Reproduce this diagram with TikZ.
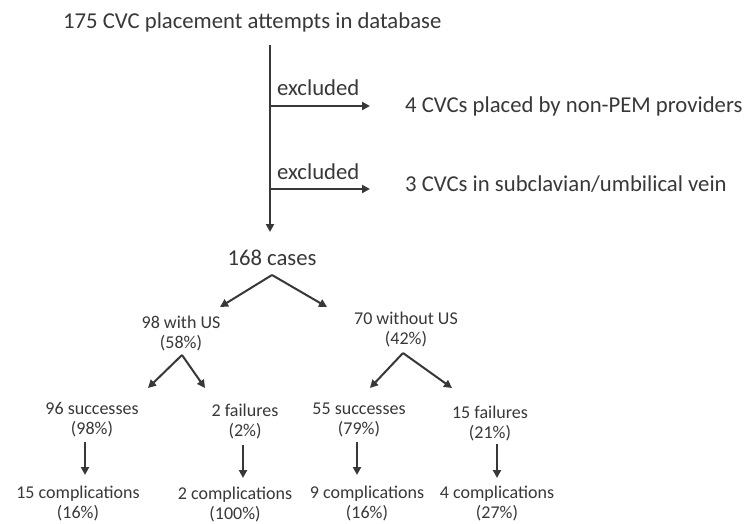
\documentclass[tikz,border=0pt]{standalone}
\usepackage{fontspec}
\setmainfont{Carlito}
\usetikzlibrary{arrows.meta}
\begin{document}
\begin{tikzpicture}[x=1pt,y=-1pt,
  big/.style={font=\fontsize{22.7}{26}\selectfont, text=black!78, inner sep=0pt},
  small/.style={font=\fontsize{18}{20}\selectfont, text=black!78, inner sep=0pt, align=center},
  arr/.style={draw=black!78, line width=2pt, -{Triangle[length=8pt,width=8pt]}}]
\useasboundingbox (0,0) rectangle (751,523);
\fill[white] (0,0) rectangle (751,523);

% top part
\node[big, anchor=west] (title) at (63,22) {175 CVC placement attempts in database};
\node[big, anchor=west] (exlab1) at (277,88) {excluded};
\node[big, anchor=west] (ex1) at (405,106) {4 CVCs placed by non-PEM providers};
\node[big, anchor=west] (exlab2) at (277,172) {excluded};
\node[big, anchor=west] (ex2) at (405,184) {3 CVCs in subclavian/umbilical vein};
\node[big] (cases) at (272,258) {168 cases};

\coordinate (vtop) at (270,45);
\coordinate (vend) at (270,232);
\coordinate (j1) at (270,106);
\coordinate (e1) at (370,106);
\coordinate (j2) at (270,189);
\coordinate (e2) at (370,189);
\draw[arr] (vtop) -- (vend);
\draw[arr] (j1) -- (e1);
\draw[arr] (j2) -- (e2);

% first split
\coordinate (b0) at (272,275);
\coordinate (bl) at (220,307);
\coordinate (br) at (327,307);
\draw[arr] (b0) -- (bl);
\draw[arr] (b0) -- (br);

\node[small] (withus) at (181,333.5) {98 with US\\(58\%)};
\node[small] (without) at (406,329.5) {70 without US\\(42\%)};

% second split
\coordinate (s1) at (182,355);
\coordinate (s1l) at (148,388);
\coordinate (s1r) at (205,388);
\coordinate (s2) at (403,353);
\coordinate (s2l) at (370,388);
\coordinate (s2r) at (452,388);
\draw[arr] (s1) -- (s1l);
\draw[arr] (s1) -- (s1r);
\draw[arr] (s2) -- (s2l);
\draw[arr] (s2) -- (s2r);

\node[small] (succ1) at (92,419.5) {96 successes\\(98\%)};
\node[small] (fail1) at (245,421.5) {2 failures\\(2\%)};
\node[small] (succ2) at (359,419.5) {55 successes\\(79\%)};
\node[small] (fail2) at (490,423.5) {15 failures\\(21\%)};

% down arrows
\coordinate (d1a) at (85,442);  \coordinate (d1b) at (85,475);
\coordinate (d2a) at (243,445); \coordinate (d2b) at (243,478);
\coordinate (d3a) at (357,442); \coordinate (d3b) at (357,475);
\coordinate (d4a) at (497,444); \coordinate (d4b) at (497,478);
\draw[arr] (d1a) -- (d1b);
\draw[arr] (d2a) -- (d2b);
\draw[arr] (d3a) -- (d3b);
\draw[arr] (d4a) -- (d4b);

\node[small] (comp1) at (78,503.5) {15 complications\\(16\%)};
\node[small] (comp2) at (235,504) {2 complications\\(100\%)};
\node[small] (comp3) at (367,503.5) {9 complications\\(16\%)};
\node[small] (comp4) at (497,503.5) {4 complications\\(27\%)};
\end{tikzpicture}
\end{document}
